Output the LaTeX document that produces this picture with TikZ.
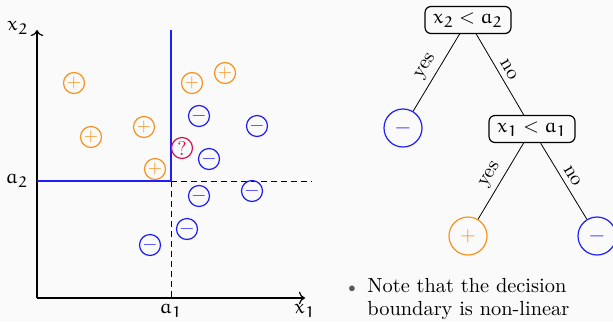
\documentclass[tikz,border=0pt]{standalone}
\usepackage{mathpazo}
\IfFileExists{euler.sty}{\usepackage{euler}}{}
\usetikzlibrary{arrows.meta}
\definecolor{bgc}{RGB}{250,250,250}
\definecolor{plusc}{RGB}{247,147,30}
\definecolor{minusc}{RGB}{30,30,250}
\definecolor{qc}{RGB}{214,20,80}
\tikzset{
  pt/.style={circle,draw,semithick,inner sep=0pt,minimum size=10.5pt,font=\small},
  pp/.style={pt,draw=plusc,text=plusc},
  mm/.style={pt,draw=minusc,text=minusc},
  qq/.style={pt,draw=qc,text=qc,font=\normalsize},
  leaf/.style={circle,draw,semithick,inner sep=0pt,minimum size=19pt},
  lp/.style={leaf,draw=plusc,text=plusc},
  lm/.style={leaf,draw=minusc,text=minusc},
  test/.style={draw,rounded corners=3pt,semithick,minimum width=43pt,minimum height=13.5pt,inner sep=1pt},
  edgelab/.style={sloped,above,inner sep=2.5pt},
  axis/.style={semithick,-{To[length=3pt]}},
  bound/.style={minusc,line width=1.2pt},
  guide/.style={thin,dashed,dash pattern=on 3pt off 2pt},
  txt/.style={anchor=base west,inner sep=0pt,font=\fontsize{10.2pt}{12pt}\selectfont}
}
\begin{document}
\begin{tikzpicture}[x=0.5pt,y=-0.5pt]
\fill[bgc] (0,0) rectangle (613,322);
\useasboundingbox (0,0) rectangle (613,322);
% axes
\coordinate (O) at (37,298);
\coordinate (XE) at (305,298);
\coordinate (YE) at (37,30);
\coordinate (A1) at (171,298);
\coordinate (A2) at (37,181);
\coordinate (C) at (171,181);
\coordinate (T) at (171,30);
\coordinate (DE) at (312,181);
\draw[guide] (C) -- (DE);
\draw[guide] (C) -- (A1);
\draw[axis] (O) -- (XE);
\draw[axis] (O) -- (YE);
\draw[bound] (A2) -- (C) -- (T);
\node (lx2) at (18,28) {$x_2$};
\node (la2) at (17,181) {$a_2$};
\node (la1) at (171,311) {$a_1$};
\node (lx1) at (305,311) {$x_1$};
% points
\node[pp] (p1) at (74,83) {$+$};
\node[pp] (p2) at (91,137) {$+$};
\node[pp] (p3) at (144,127) {$+$};
\node[pp] (p4) at (155,169) {$+$};
\node[pp] (p5) at (192,83) {$+$};
\node[pp] (p6) at (225,73) {$+$};
\node[mm] (m1) at (199,116) {$-$};
\node[mm] (m2) at (257,126) {$-$};
\node[mm] (m3) at (209,159) {$-$};
\node[mm] (m4) at (199,196) {$-$};
\node[mm] (m5) at (252,191) {$-$};
\node[mm] (m6) at (187,229) {$-$};
\node[mm] (m7) at (150,245) {$-$};
\node[qq] (q) at (182,148) {?};
% tree
\node[test] (root) at (468,20) {$x_2 < a_2$};
\node[lm] (l1) at (403,128) {$-$};
\node[test] (n2) at (532,129) {$x_1 < a_1$};
\node[lp] (l2) at (468,236) {$+$};
\node[lm] (l3) at (597,236) {$-$};
\draw (root) -- node[edgelab] {yes} (l1);
\draw (root) -- node[edgelab] {no} (n2);
\draw (n2) -- node[edgelab] {yes} (l2);
\draw (n2) -- node[edgelab] {no} (l3);
% bullet text
\node[inner sep=0pt,text=black!65] (bul) at (352,289) {\scriptsize$\bullet$};
\node[txt] (t1) at (367,292) {Note that the decision};
\node[txt] (t2) at (367,315) {boundary is non-linear};
\end{tikzpicture}
\end{document}
